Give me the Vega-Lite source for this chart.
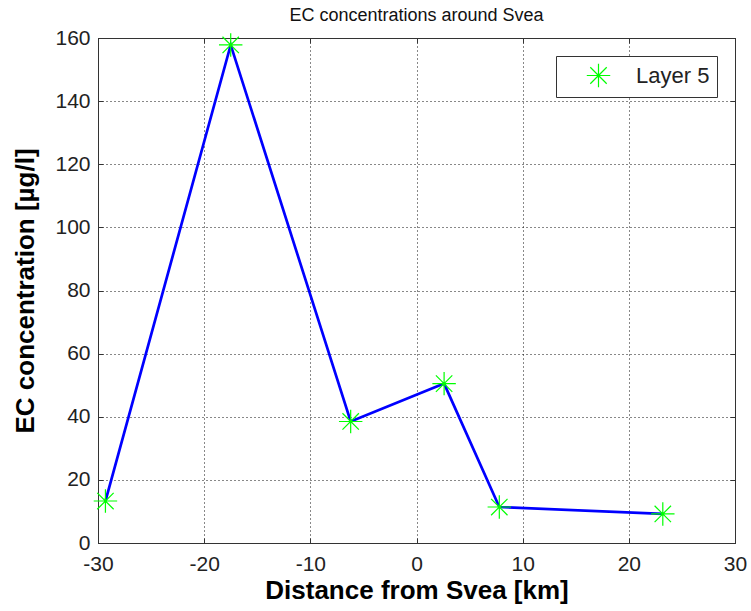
{
  "$schema": "https://vega.github.io/schema/vega-lite/v6.json",
  "autosize": {"type": "none"},
  "width": 637,
  "height": 505,
  "padding": {"left": 98, "top": 38, "right": 16, "bottom": 68},
  "background": "white",
  "title": {"text": "EC concentrations around Svea", "font": "Liberation Sans", "fontSize": 18, "fontWeight": "normal", "color": "#111", "offset": 2},
  "config": {
    "view": {"stroke": null},
    "axis": {"labelFont": "Liberation Sans", "titleFont": "Liberation Sans", "labelColor": "#222", "titleColor": "black", "domainColor": "#333", "tickColor": "#333", "gridColor": "#111", "gridDash": [1, 3], "gridOpacity": 1, "gridWidth": 1, "labelFlush": false, "labelOverlap": false}
  },
  "data": {"values": [
    {"x": -29.3, "y": 13.3, "series": "Layer 5"},
    {"x": -17.5, "y": 157.8, "series": "Layer 5"},
    {"x": -6.2, "y": 38.5, "series": "Layer 5"},
    {"x": 2.6, "y": 50.5, "series": "Layer 5"},
    {"x": 7.8, "y": 11.4, "series": "Layer 5"},
    {"x": 23.2, "y": 9.2, "series": "Layer 5"}
  ]},
  "resolve": {"axis": {"x": "independent", "y": "independent"}},
  "layer": [
    {
      "mark": {"type": "line", "color": "#0000ff", "strokeWidth": 2.7},
      "encoding": {
        "x": {"field": "x", "type": "quantitative", "scale": {"domain": [-30, 30], "nice": false, "zero": false},
          "axis": {"orient": "bottom", "values": [-30, -20, -10, 0, 10, 20, 30], "labelExpr": "'' + datum.value", "title": "Distance from Svea [km]", "titleFontSize": 26, "titleFontWeight": "bold", "labelFontSize": 21, "tickSize": -5, "labelPadding": 15, "titlePadding": 3, "grid": true}},
        "y": {"field": "y", "type": "quantitative", "scale": {"domain": [0, 160], "nice": false},
          "axis": {"orient": "left", "values": [0, 20, 40, 60, 80, 100, 120, 140, 160], "labelExpr": "'' + datum.value", "title": "EC concentration [µg/l]", "titleFontSize": 26, "titleFontWeight": "bold", "labelFontSize": 21, "tickSize": -5, "labelPadding": 13, "titlePadding": 16, "grid": true}}
      }
    },
    {
      "mark": {"type": "point", "shape": "M-1,0L1,0M0,-1L0,1M-0.7,-0.7L0.7,0.7M-0.7,0.7L0.7,-0.7", "filled": false, "size": 550, "strokeWidth": 1.2, "opacity": 1},
      "encoding": {
        "x": {"field": "x", "type": "quantitative", "scale": {"domain": [-30, 30], "nice": false, "zero": false},
          "axis": {"orient": "top", "values": [-30, -20, -10, 0, 10, 20, 30], "labels": false, "title": null, "tickSize": -5, "grid": false}},
        "y": {"field": "y", "type": "quantitative", "scale": {"domain": [0, 160], "nice": false},
          "axis": {"orient": "right", "values": [0, 20, 40, 60, 80, 100, 120, 140, 160], "labels": false, "title": null, "tickSize": -5, "grid": false}},
        "color": {"field": "series", "type": "nominal", "scale": {"range": ["#00ff00"]},
          "legend": {"title": null, "orient": "top-right", "offset": 18, "strokeColor": "#333", "fillColor": "white", "padding": 7, "symbolOffset": 23, "symbolType": "M-1,0L1,0M0,-1L0,1M-0.7,-0.7L0.7,0.7M-0.7,0.7L0.7,-0.7", "symbolSize": 550, "symbolStrokeWidth": 1.2, "symbolStrokeColor": "#00ff00", "labelFont": "Liberation Sans", "labelFontSize": 22, "labelColor": "#222", "labelOffset": 25}}
      }
    }
  ]
}
